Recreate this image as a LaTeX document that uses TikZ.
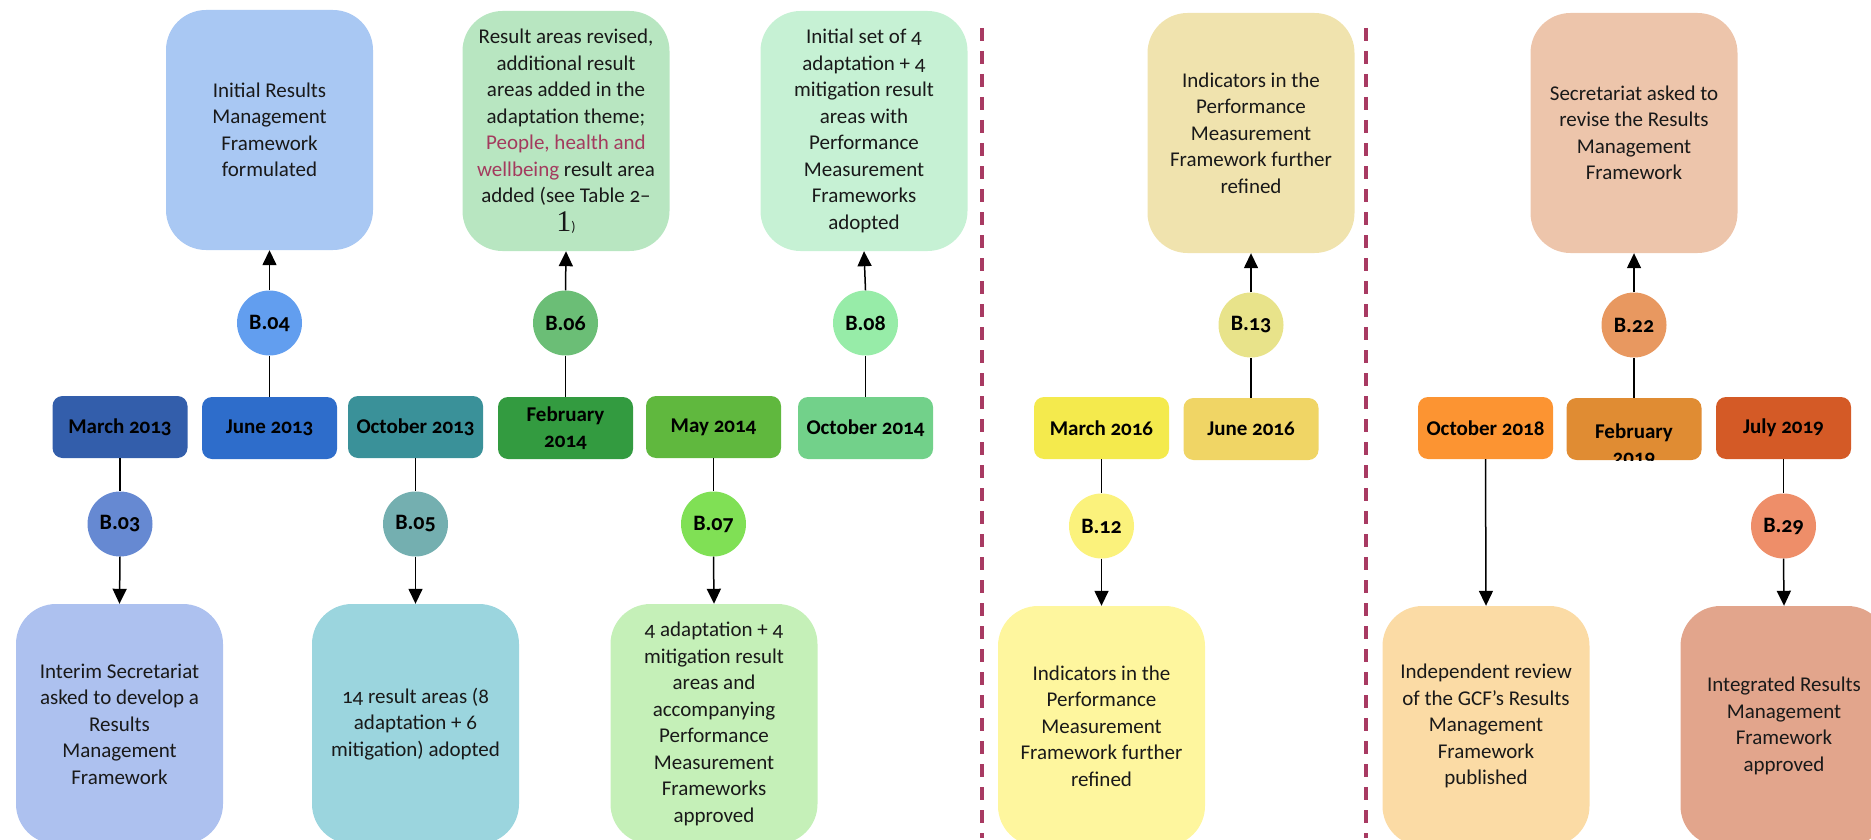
\documentclass[tikz,border=0pt]{standalone}
\usepackage{fontspec}
\setmainfont{Carlito}[Numbers=OldStyle]
\newfontfamily\serifone{Liberation Serif}
\usetikzlibrary{arrows.meta}
\definecolor{tA}{HTML}{A9C8F3}
\definecolor{tB}{HTML}{B8E6C1}
\definecolor{tC}{HTML}{C6F1D4}
\definecolor{tD}{HTML}{F0E3AE}
\definecolor{tE}{HTML}{EDC5AB}
\definecolor{bA}{HTML}{ADC1EF}
\definecolor{bB}{HTML}{9BD5DE}
\definecolor{bC}{HTML}{C5F0B8}
\definecolor{bD}{HTML}{FEF69E}
\definecolor{bE}{HTML}{FBDBA5}
\definecolor{bF}{HTML}{E2A58C}
\definecolor{dA}{HTML}{335EAB}
\definecolor{dB}{HTML}{2E6DCB}
\definecolor{dC}{HTML}{3A9199}
\definecolor{dD}{HTML}{339B40}
\definecolor{dE}{HTML}{60B83E}
\definecolor{dF}{HTML}{72D18A}
\definecolor{dG}{HTML}{F4EA4D}
\definecolor{dH}{HTML}{F0D565}
\definecolor{dI}{HTML}{FC9432}
\definecolor{dJ}{HTML}{E08C33}
\definecolor{dK}{HTML}{D45A26}
\definecolor{cA}{HTML}{6689D2}
\definecolor{cB}{HTML}{629EEF}
\definecolor{cC}{HTML}{74AFB0}
\definecolor{cD}{HTML}{6BBE76}
\definecolor{cE}{HTML}{80E055}
\definecolor{cF}{HTML}{97ECA8}
\definecolor{cG}{HTML}{FBF27C}
\definecolor{cH}{HTML}{E8E38A}
\definecolor{cI}{HTML}{E89860}
\definecolor{cJ}{HTML}{EE8E69}
\definecolor{sep}{HTML}{A83A62}
\definecolor{hl}{HTML}{A33B5E}
\begin{document}
\begin{tikzpicture}[x=1pt,y=-1pt,
  bigbox/.style={draw=none, rounded corners=40pt, minimum width=207pt, minimum height=240pt,
    inner sep=0pt, align=center, text=black!90, font=\fontsize{21}{26.5}\selectfont},
  datebox/.style={draw=none, rounded corners=10pt, minimum width=135pt, minimum height=62pt,
    inner sep=0pt, align=center, font=\bfseries\fontsize{21}{26}\selectfont},
  bcirc/.style={circle, draw=none, minimum size=65pt, inner sep=0pt, font=\bfseries\fontsize{22}{26}\selectfont},
  conn/.style={line width=1.5pt, black},
  arr/.style={conn, -{Triangle[length=15pt,width=14pt]}},
  seg/.style={line width=4pt, sep, dash pattern=on 13pt off 10pt}
]
\useasboundingbox (0,0) rectangle (1871,840);
\clip (0,0) rectangle (1871,840);

% separators
\draw[seg] (982,28) -- (982,838);
\draw[seg] (1366,28) -- (1366,838);

% top boxes
\node[bigbox, fill=tA] (t1) at (269.5,130) {Initial Results\\Management\\Framework\\formulated};
\node[bigbox, fill=tB] (t2) at (566,131) {Result areas revised,\\additional result\\areas added in the\\adaptation theme;\\\textcolor{hl}{People, health and}\\\textcolor{hl}{wellbeing} result area\\added (see Table 2--\\[2pt]{\serifone\fontsize{30}{30}\selectfont 1}{\fontsize{14}{14}\selectfont)}};
\node[bigbox, fill=tC] (t3) at (864,131) {Initial set of 4\\adaptation + 4\\mitigation result\\areas with\\Performance\\Measurement\\Frameworks\\adopted};
\node[bigbox, fill=tD] (t4) at (1251,133) {Indicators in the\\Performance\\Measurement\\Framework further\\refined};
\node[bigbox, fill=tE] (t5) at (1634,133) {Secretariat asked to\\revise the Results\\Management\\Framework};

% date boxes
\node[datebox, fill=dA] (d1) at (120,427) {March 2013};
\node[datebox, fill=dB] (d2) at (269.5,428) {June 2013};
\node[datebox, fill=dC] (d3) at (415.5,427) {October 2013};
\node[datebox, fill=dD] (d4) at (565.5,428) {February\\2014};
\node[datebox, fill=dE] (d5) at (713.5,427) {May 2014};
\node[datebox, fill=dF] (d6) at (865.5,428) {October 2014};
\node[datebox, fill=dG] (d7) at (1101.5,428) {March 2016};
\node[datebox, fill=dH] (d8) at (1251,429) {June 2016};
\node[datebox, fill=dI] (d9) at (1485.5,428) {October 2018};
\node[datebox, fill=dJ, path picture={\node[font=\bfseries\fontsize{21}{26}\selectfont, align=center] at ([yshift=-16pt]path picture bounding box.center) {February\\2019};}] (d10) at (1634,429) {};
\node[datebox, fill=dK] (d11) at (1783.5,428) {July 2019};

% circles
\node[bcirc, fill=cA] (c3) at (120,524) {B.03};
\node[bcirc, fill=cB] (c4) at (269.5,323) {B.04};
\node[bcirc, fill=cC] (c5) at (415.5,524) {B.05};
\node[bcirc, fill=cD] (c6) at (565.5,323) {B.06};
\node[bcirc, fill=cE] (c7) at (713.5,524) {B.07};
\node[bcirc, fill=cF] (c8) at (865.5,323) {B.08};
\node[bcirc, fill=cG] (c12) at (1101.5,526) {B.12};
\node[bcirc, fill=cH] (c13) at (1251,325) {B.13};
\node[bcirc, fill=cI] (c22) at (1634,325) {B.22};
\node[bcirc, fill=cJ] (c29) at (1783.5,526) {B.29};

% bottom boxes
\node[bigbox, fill=bA] (b1) at (119.5,724) {Interim Secretariat\\asked to develop a\\Results\\Management\\Framework};
\node[bigbox, fill=bB] (b2) at (415.5,724) {14 result areas (8\\adaptation + 6\\mitigation) adopted};
\node[bigbox, fill=bC] (b3) at (714,724) {4 adaptation + 4\\mitigation result\\areas and\\accompanying\\Performance\\Measurement\\Frameworks\\approved};
\node[bigbox, fill=bD] (b4) at (1101.5,726) {Indicators in the\\Performance\\Measurement\\Framework further\\refined};
\node[bigbox, fill=bE] (b5) at (1486,726) {Independent review\\of the GCF’s Results\\Management\\Framework\\published};
\node[bigbox, fill=bF] (b6) at (1784,726) {Integrated Results\\Management\\Framework\\approved};

% connectors
\draw[conn] (d1.south) -- (c3.north);
\draw[arr] (c3.south) -- (b1.north);
\draw[conn] (d2.north) -- (c4.south);
\draw[arr] (c4.north) -- (t1.south);
\draw[conn] (d3.south) -- (c5.north);
\draw[arr] (c5.south) -- (b2.north);
\draw[conn] (d4.north) -- (c6.south);
\draw[arr] (c6.north) -- (t2.south);
\draw[conn] (d5.south) -- (c7.north);
\draw[arr] (c7.south) -- (b3.north);
\draw[conn] (d6.north) -- (c8.south);
\draw[arr] (c8.north) -- (t3.south);
\draw[conn] (d7.south) -- (c12.north);
\draw[arr] (c12.south) -- (b4.north);
\draw[conn] (d8.north) -- (c13.south);
\draw[arr] (c13.north) -- (t4.south);
\draw[arr] (d9.south) -- (b5.north);
\draw[conn] (d10.north) -- (c22.south);
\draw[arr] (c22.north) -- (t5.south);
\draw[conn] (d11.south) -- (c29.north);
\draw[arr] (c29.south) -- (b6.north);
\end{tikzpicture}
\end{document}
